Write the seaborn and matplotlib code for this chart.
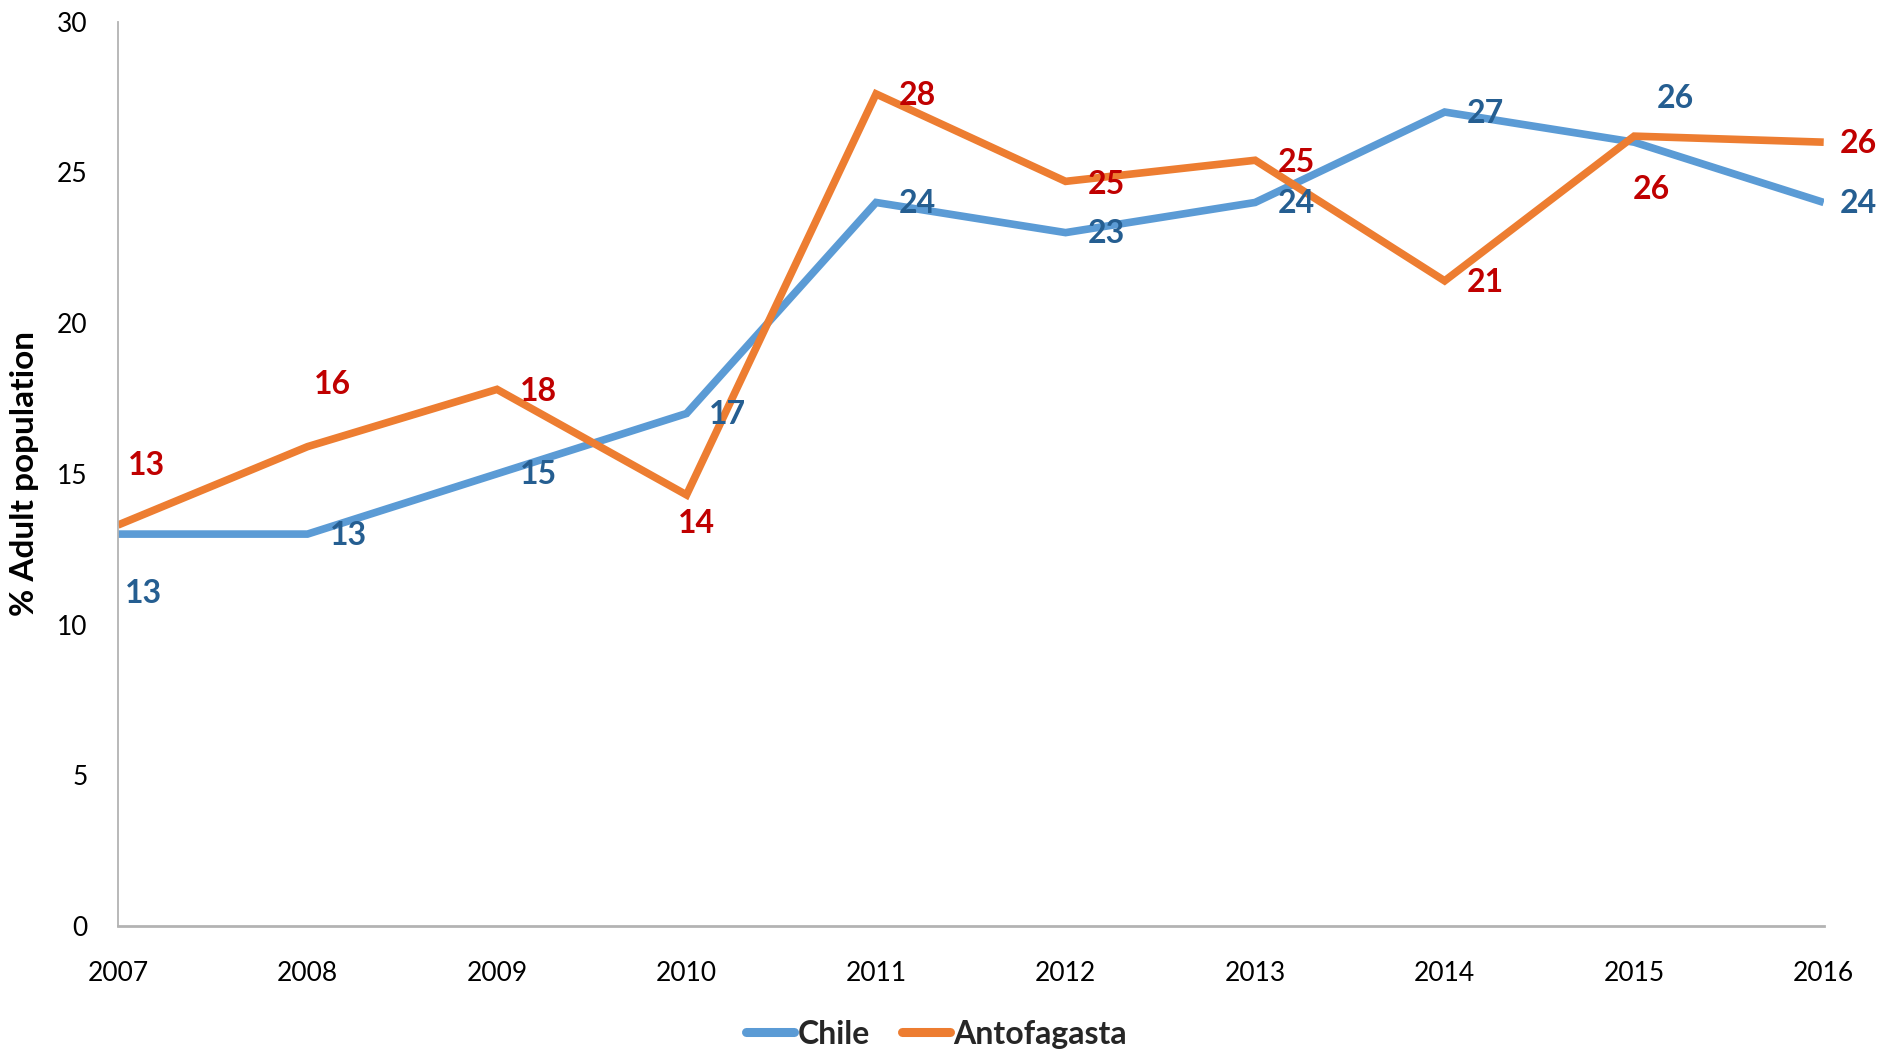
import matplotlib
matplotlib.use("Agg")
import matplotlib.pyplot as plt
import seaborn as sns
import pandas as pd

# Share of the adult population, by year
years = [2007, 2008, 2009, 2010, 2011, 2012, 2013, 2014, 2015, 2016]
chile = [13.0, 13.0, 15.0, 17.0, 24.0, 23.0, 24.0, 27.0, 26.0, 24.0]
antofagasta = [13.3, 15.9, 17.8, 14.3, 27.6, 24.7, 25.4, 21.4, 26.2, 26.0]
series_names = ["Chile", "Antofagasta"]

line_colors = {"Chile": "#5B9BD5", "Antofagasta": "#ED7D31"}
label_colors = {"Chile": "#255E91", "Antofagasta": "#C00000"}

# Label offsets in pixels (dx, dy) for each point
chile_offsets = [(26, -59), (41, -1), (41, -1), (41, -1), (41, -1),
                 (41, -1), (41, -1), (41, -1), (41, 44), (35, -1)]
antof_offsets = [(29, 60), (25, 62), (41, -2), (10, -29), (41, -2),
                 (41, -3), (41, -2), (41, -2), (17, -53), (35, -1)]

df = pd.DataFrame({
    "Year": years * 2,
    "Value": chile + antofagasta,
    "Series": ["Chile"] * len(years) + ["Antofagasta"] * len(years),
})

sns.set_theme(style="white")
plt.rcParams["font.family"] = ["Lato", "DejaVu Sans"]

fig = plt.figure(figsize=(18.84, 10.53), dpi=100)
ax = fig.add_axes([0.0626, 0.1206, 0.9054, 0.8589])

sns.lineplot(data=df, x="Year", y="Value", hue="Series", hue_order=series_names,
             palette=line_colors, linewidth=5.5, ax=ax, legend=True,
             solid_joinstyle="miter", solid_capstyle="butt")

for name, vals, offs in [("Chile", chile, chile_offsets),
                         ("Antofagasta", antofagasta, antof_offsets)]:
    for x, v, (dx, dy) in zip(years, vals, offs):
        ax.annotate(f"{v:.0f}", (x, v), xytext=(dx, dy), textcoords="offset pixels",
                    ha="center", va="center", fontsize=23, fontweight="bold",
                    color=label_colors[name])

ax.set_xlim(2007, 2016)
ax.set_ylim(0, 30)
ax.set_yticks(range(0, 31, 5))
ax.set_xticks(years)
ax.set_xticklabels([str(y) for y in years])
ax.tick_params(axis="both", length=0, labelsize=19, colors="black")
ax.tick_params(axis="x", pad=25)
ax.tick_params(axis="y", pad=22)

ax.set_xlabel("")
ax.set_ylabel("% Adult population", fontsize=24, fontweight="bold", color="black")
ax.yaxis.set_label_coords(-0.046, 0.5)

for side in ["top", "right"]:
    ax.spines[side].set_visible(False)
for side in ["left", "bottom"]:
    ax.spines[side].set_color("#B3B3B3")
ax.spines["left"].set_linewidth(1.3)
ax.spines["bottom"].set_linewidth(2.0)
ax.grid(False)

handles, labels = ax.get_legend_handles_labels()
ax.get_legend().remove()
leg = fig.legend(handles, labels, loc="center", bbox_to_anchor=(0.497, 0.018),
                 ncol=2, frameon=False, handlelength=1.5, handletextpad=0.1,
                 columnspacing=1.0, prop={"size": 23, "weight": "bold"})
for line in leg.get_lines():
    line.set_linewidth(6.5)
    line.set_solid_capstyle("round")

fig.savefig("out.png", dpi=100)
